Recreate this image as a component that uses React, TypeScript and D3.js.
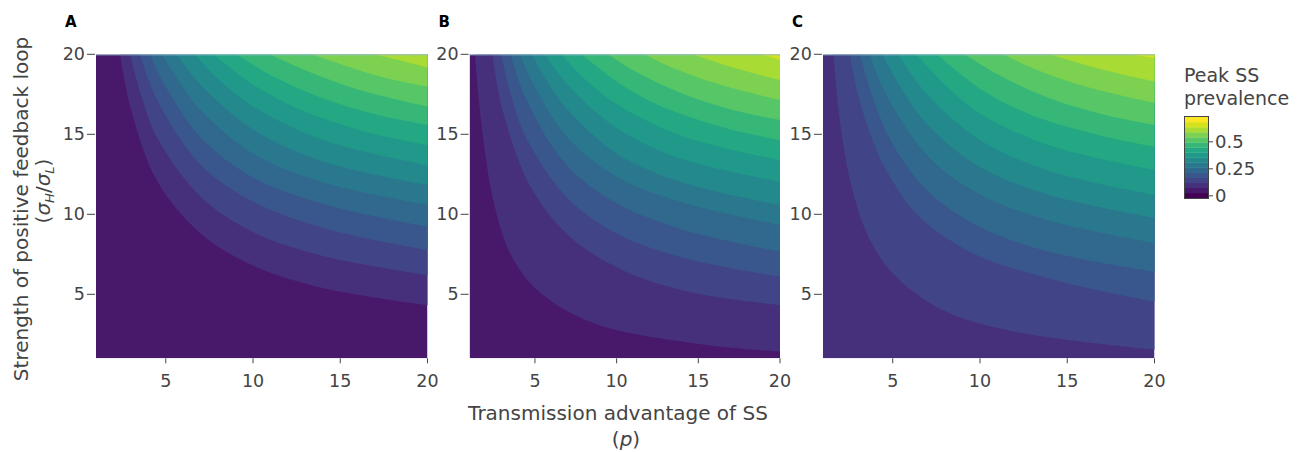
import React from "react";
import * as d3 from "d3";

// Plotly "Viridis" colour stops
const viridisStops = [
  "#440154", "#48186a", "#472d7b", "#424086", "#3b528b", "#33638d",
  "#2c728e", "#26828e", "#21918c", "#1fa088", "#28ae80", "#3fbc73",
  "#5ec962", "#84d44b", "#addc30", "#d8e219", "#fde725",
];
const bandCount = 16;

// axis ticks
const pTicks = [5, 10, 15, 20];
const sTicks = [5, 10, 15, 20];
const cbTicks = [0, 0.25, 0.5];
const cbTickLabels = ["0", "0.25", "0.5"];

// contour boundaries, [p, sigmaH/sigmaL], lowest level first
const boundsA: [number, number][][] = [
  [[2.38, 20], [3, 16.6], [4.5, 12.1], [7, 8.8], [10, 6.8], [14, 5.4], [20, 4.33]],
  [[2.95, 20], [3.6, 17.4], [4.5, 14.8], [7, 11.1], [10, 8.9], [14, 7.4], [20, 6.21]],
  [[3.52, 20], [4.5, 17.15], [7, 13.1], [10, 10.8], [14, 9.15], [20, 7.77]],
  [[4.09, 20], [5, 17.95], [7, 14.8], [10, 12.3], [14, 10.65], [20, 9.23]],
  [[4.77, 20], [6, 17.9], [7, 16.5], [10, 13.8], [14, 12.0], [20, 10.59]],
  [[5.62, 20], [7, 18.1], [10, 15.3], [14, 13.3], [20, 11.84]],
  [[6.67, 20], [8, 18.45], [10, 16.75], [14, 14.65], [20, 13.08]],
  [[7.72, 20], [10, 18.1], [12, 16.9], [14, 16.0], [17, 15.0], [20, 14.33]],
  [[9.06, 20], [11, 18.7], [14, 17.25], [17, 16.25], [20, 15.58]],
  [[10.97, 20], [13, 19.0], [16, 17.8], [20, 16.73]],
  [[13.36, 20], [15, 19.4], [17.5, 18.55], [20, 17.98]],
  [[16.9, 20], [18.5, 19.6], [20, 19.17]],
];

const boundsB: [number, number][][] = [
  [[1.33, 20], [1.74, 15.5], [2.45, 10.9], [3.47, 7.6], [5.1, 5.3], [8.57, 3.2], [14.7, 1.94], [20, 1.41]],
  [[2.39, 20], [3, 16.6], [4.69, 11.8], [7.14, 8.6], [10.6, 6.4], [14.7, 5.1], [20, 4.33]],
  [[2.92, 20], [3.6, 17.2], [4.5, 14.7], [7, 11.0], [10, 8.8], [14, 7.3], [20, 6.1]],
  [[3.51, 20], [4.5, 17.1], [7, 13.0], [10, 10.7], [14, 9.05], [20, 7.66]],
  [[4.08, 20], [5, 17.95], [7, 14.8], [10, 12.35], [14, 10.75], [20, 9.33]],
  [[4.8, 20], [6, 17.9], [7, 16.55], [10, 13.8], [14, 12.0], [20, 10.58]],
  [[5.61, 20], [7, 18.1], [10, 15.4], [14, 13.45], [20, 12.04]],
  [[6.63, 20], [8, 18.5], [10, 16.9], [14, 14.9], [20, 13.39]],
  [[7.86, 20], [10, 18.3], [12, 17.1], [14, 16.25], [17, 15.3], [20, 14.64]],
  [[9.48, 20], [11, 19.0], [14, 17.55], [17, 16.55], [20, 15.89]],
  [[11.72, 20], [13, 19.35], [16, 18.2], [20, 17.14]],
  [[14.68, 20], [16, 19.54], [18, 18.92], [20, 18.39]],
  [[18.76, 20], [19.4, 19.85], [20, 19.64]],
];

const boundsC: [number, number][][] = [
  [[1.6, 20], [1.98, 15.8], [2.65, 11.7], [3.7, 8.4], [5.23, 6.05], [7.9, 4.0], [11.72, 2.72], [20, 1.53]],
  [[2.55, 20], [3, 17.5], [4, 14.2], [5.03, 12.0], [6.56, 9.8], [9.81, 7.45], [14.6, 5.8], [20, 4.54]],
  [[3.12, 20], [4, 16.85], [5, 14.4], [7, 11.45], [10, 9.2], [14, 7.65], [20, 6.41]],
  [[3.7, 20], [4.5, 17.75], [7, 13.65], [10, 11.25], [14, 9.6], [20, 8.21]],
  [[4.42, 20], [5.5, 17.85], [7, 15.6], [10, 12.95], [14, 11.2], [20, 9.77]],
  [[5.32, 20], [7, 17.45], [10, 14.65], [14, 12.7], [20, 11.21]],
  [[6.34, 20], [8, 18.1], [10, 16.3], [14, 14.3], [20, 12.77]],
  [[7.52, 20], [10, 17.85], [12, 16.65], [14, 15.8], [17, 14.9], [20, 14.23]],
  [[9.14, 20], [11, 18.75], [14, 17.25], [17, 16.25], [20, 15.58]],
  [[11.34, 20], [13, 19.15], [16, 18.0], [20, 16.96]],
  [[14.02, 20], [16, 19.35], [18, 18.78], [20, 18.29]],
  [[18.41, 20], [19.2, 19.9], [20, 19.77]],
];

const panelLabels = ["A", "B", "C"];
const panelBaseBand = [1, 1, 2];
const panelBounds = [boundsA, boundsB, boundsC];
const panelLeft = [96, 469.6, 822.9];
const panelRight = [427.5, 780, 1154.5];

const plotTop = 54.3;
const plotBottom = 358.3;
const font = "'DejaVu Sans', Verdana, sans-serif";
const axisColor = "#444";

const viridis = d3
  .scaleLinear<string>()
  .domain(viridisStops.map((_, i) => i / (viridisStops.length - 1)))
  .range(viridisStops)
  .interpolate(d3.interpolateRgb);
const bandColor = (j: number) => viridis(j / (bandCount - 1));

function Panel({ idx }: { idx: number }) {
  const left = panelLeft[idx];
  const right = panelRight[idx];
  const x = d3.scaleLinear().domain([1, 20]).range([left, right]);
  const y = d3.scaleLinear().domain([1, 20]).range([plotBottom, plotTop]);
  const line = d3
    .line<[number, number]>()
    .x((d) => x(d[0]))
    .y((d) => y(d[1]))
    .curve(d3.curveCatmullRom.alpha(0.5));
  const base = panelBaseBand[idx];
  const clipId = `clip-${idx}`;

  return (
    <g>
      <clipPath id={clipId}>
        <rect x={left} y={plotTop} width={right - left} height={plotBottom - plotTop} />
      </clipPath>
      <g clipPath={`url(#${clipId})`}>
        <rect x={left} y={plotTop} width={right - left} height={plotBottom - plotTop} fill={bandColor(base)} />
        {panelBounds[idx].map((b, i) => (
          <path
            key={i}
            d={`${line(b)}L${x(20) + 2},${y(b[b.length - 1][1])}L${x(20) + 2},${y(20) - 2}L${x(b[0][0])},${y(20) - 2}Z`}
            fill={bandColor(base + i + 1)}
          />
        ))}
      </g>
      <line x1={left} x2={right} y1={plotTop + 0.5} y2={plotTop + 0.5} stroke="#9fbfcf" strokeWidth={1} />

      {/* y ticks */}
      {sTicks.map((t) => (
        <g key={`y${t}`}>
          <line x1={left - 9} x2={left - 1} y1={y(t)} y2={y(t)} stroke={axisColor} strokeWidth={1} />
          <text x={left - 11} y={y(t) + 6} textAnchor="end" fontSize={17.5} fill={axisColor} fontFamily={font}>
            {t}
          </text>
        </g>
      ))}
      {/* x ticks */}
      {pTicks.map((t) => (
        <g key={`x${t}`}>
          <line x1={x(t)} x2={x(t)} y1={plotBottom} y2={plotBottom + 5} stroke={axisColor} strokeWidth={1} />
          <text x={x(t)} y={387} textAnchor="middle" fontSize={17.5} fill={axisColor} fontFamily={font}>
            {t}
          </text>
        </g>
      ))}
      <text x={left - 31} y={27} fontSize={15} fontWeight="bold" fill="#000" fontFamily={font}>
        {panelLabels[idx]}
      </text>
    </g>
  );
}

function ColorBar() {
  const cb = d3.scaleLinear().domain([-0.02, 0.73]).range([198, 117]);
  const dz = (0.73 + 0.02) / bandCount;
  const x0 = 1185;
  const w = 23;
  return (
    <g>
      {d3.range(bandCount).map((j) => (
        <rect
          key={j}
          x={x0}
          y={cb(-0.02 + (j + 1) * dz)}
          width={w}
          height={cb(-0.02 + j * dz) - cb(-0.02 + (j + 1) * dz) + 0.3}
          fill={bandColor(j)}
        />
      ))}
      <rect x={x0 - 0.5} y={116.5} width={w + 1} height={82} fill="none" stroke={axisColor} strokeWidth={1} />
      {cbTicks.map((t, i) => (
        <g key={t}>
          <line x1={x0 + w + 1} x2={x0 + w + 5} y1={cb(t)} y2={cb(t)} stroke={axisColor} strokeWidth={1} />
          <text x={x0 + w + 7} y={cb(t) + 6.5} fontSize={18} fill={axisColor} fontFamily={font}>
            {cbTickLabels[i]}
          </text>
        </g>
      ))}
      <text x={1184} y={82} fontSize={19} fill={axisColor} fontFamily={font}>
        Peak SS
      </text>
      <text x={1184} y={105} fontSize={19} fill={axisColor} fontFamily={font}>
        prevalence
      </text>
    </g>
  );
}

export default function App() {
  return (
    <svg
      width={1304}
      height={452}
      style={{ position: "absolute", left: 0, top: 0, background: "#fff" }}
      fontFamily={font}
    >
      <rect width={1304} height={452} fill="#fff" />
      {[0, 1, 2].map((i) => (
        <Panel key={i} idx={i} />
      ))}
      <ColorBar />

      <text x={618} y={420} textAnchor="middle" fontSize={20} fill={axisColor}>
        Transmission advantage of SS
      </text>
      <text x={626} y={446} textAnchor="middle" fontSize={20} fill={axisColor}>
        (<tspan fontStyle="italic">p</tspan>)
      </text>

      <text transform="translate(28,209) rotate(-90)" textAnchor="middle" fontSize={20} fill={axisColor}>
        Strength of positive feedback loop
      </text>
      <text transform="translate(50,191) rotate(-90)" textAnchor="middle" fontSize={20} fill={axisColor}>
        (<tspan fontStyle="italic">σ</tspan>
        <tspan fontStyle="italic" fontSize={13} dy={4}>H</tspan>
        <tspan dy={-4}>/</tspan>
        <tspan fontStyle="italic">σ</tspan>
        <tspan fontStyle="italic" fontSize={13} dy={4}>L</tspan>
        <tspan dy={-4}>)</tspan>
      </text>
    </svg>
  );
}
